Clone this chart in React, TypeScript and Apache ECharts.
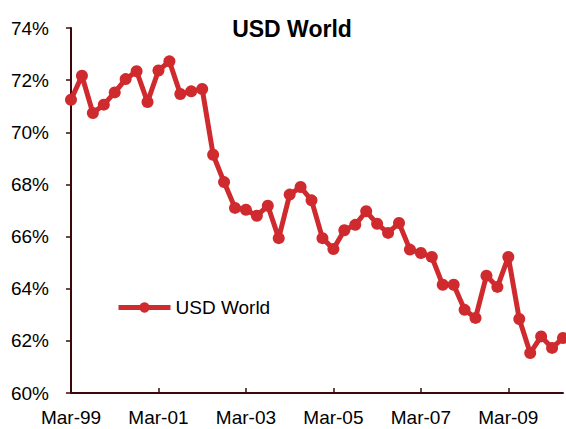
import React, { useEffect, useRef } from "react";
import * as echarts from "echarts";

const quarters: string[] = [
  "Mar-99", "Jun-99", "Sep-99", "Dec-99",
  "Mar-00", "Jun-00", "Sep-00", "Dec-00",
  "Mar-01", "Jun-01", "Sep-01", "Dec-01",
  "Mar-02", "Jun-02", "Sep-02", "Dec-02",
  "Mar-03", "Jun-03", "Sep-03", "Dec-03",
  "Mar-04", "Jun-04", "Sep-04", "Dec-04",
  "Mar-05", "Jun-05", "Sep-05", "Dec-05",
  "Mar-06", "Jun-06", "Sep-06", "Dec-06",
  "Mar-07", "Jun-07", "Sep-07", "Dec-07",
  "Mar-08", "Jun-08", "Sep-08", "Dec-08",
  "Mar-09", "Jun-09", "Sep-09", "Dec-09",
  "Mar-10", "Jun-10",
];

const usdWorld: number[] = [
  71.25, 72.17, 70.74, 71.06,
  71.53, 72.04, 72.34, 71.16,
  72.37, 72.72, 71.47, 71.57,
  71.66, 69.14, 68.09, 67.1,
  67.03, 66.8, 67.18, 65.94,
  67.61, 67.9, 67.39, 65.94,
  65.52, 66.24, 66.45, 66.97,
  66.49, 66.14, 66.52, 65.5,
  65.37, 65.22, 64.15, 64.15,
  63.19, 62.88, 64.5, 64.07,
  65.22, 62.84, 61.53, 62.17,
  61.73, 62.11,
];

const seriesName = "USD World";
const yMin = 60;
const yMax = 74;
const yStep = 2;

export default function App() {
  const ref = useRef<HTMLDivElement>(null);
  useEffect(() => {
    if (!ref.current) return;
    const chart = echarts.init(ref.current, null, { renderer: "svg" });
    const red = "#CF2A2E";
    const axisColor = "#3F0808";
    const font = "Liberation Sans, Arial, sans-serif";
    chart.setOption({
      animation: false,
      backgroundColor: "#ffffff",
      title: {
        text: "USD World",
        left: 287,
        top: 12,
        textAlign: "center",
        textStyle: { fontFamily: font, fontSize: 23, fontWeight: "bold", color: "#000" },
      },
      legend: {
        data: [seriesName],
        left: 111,
        top: 293,
        itemWidth: 52,
        itemHeight: 13,
        itemStyle: { color: red },
        lineStyle: { width: 5, color: red },
        textStyle: { fontFamily: font, fontSize: 19, color: "#000" },
      },
      grid: { left: 71, right: 3, top: 28, bottom: 36, containLabel: false },
      xAxis: {
        type: "category",
        data: quarters,
        boundaryGap: false,
        axisLine: { lineStyle: { color: axisColor, width: 2 } },
        axisTick: { inside: true, length: 5, interval: 7, lineStyle: { color: axisColor, width: 1.5 } },
        axisLabel: {
          interval: 7,
          margin: 15,
          fontFamily: font,
          fontSize: 19,
          color: "#000",
        },
        splitLine: { show: false },
      },
      yAxis: {
        type: "value",
        min: yMin,
        max: yMax,
        interval: yStep,
        axisLine: { show: true, lineStyle: { color: axisColor, width: 2 } },
        axisTick: { show: true, length: 5, lineStyle: { color: axisColor, width: 1.5 } },
        axisLabel: {
          formatter: "{value}%",
          margin: 22,
          fontFamily: font,
          fontSize: 19,
          color: "#000",
        },
        splitLine: { show: false },
      },
      series: [
        {
          name: seriesName,
          type: "line",
          data: usdWorld,
          symbol: "circle",
          symbolSize: 12,
          showAllSymbol: true,
          lineStyle: { color: red, width: 5 },
          itemStyle: { color: red },
        },
      ],
    });
    return () => chart.dispose();
  }, []);
  return (
    <div
      ref={ref}
      style={{ position: "fixed", left: 0, top: 0, width: 566, height: 429 }}
    />
  );
}
